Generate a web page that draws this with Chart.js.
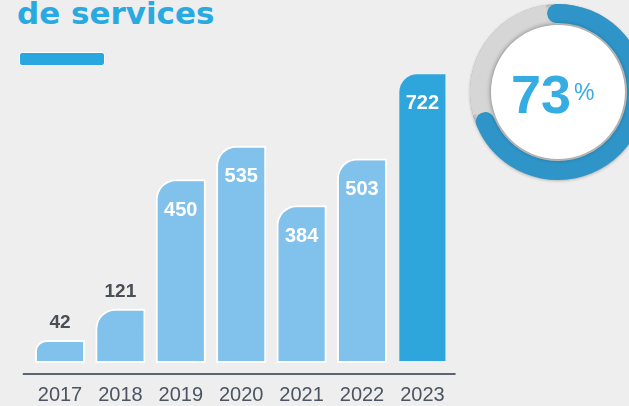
<!DOCTYPE html>
<html>
<head>
<meta charset="utf-8">
<script src="https://cdn.jsdelivr.net/npm/chart.js@4/dist/chart.umd.min.js"></script>
<style>
  html, body { margin: 0; padding: 0; }
  body {
    width: 629px; height: 406px; overflow: hidden; position: relative;
    background: #eeeeee;
  }
  .title {
    position: absolute; left: 17px; top: -2px;
    font: bold 31px "DejaVu Sans", sans-serif; line-height: 31px;
    color: #29a9e1; white-space: nowrap;
  }
  .accent {
    position: absolute; left: 19px; top: 52px; width: 86px; height: 14px;
    box-sizing: border-box; background: #29a8e0; border: 1px solid #fff; border-radius: 3px;
  }
  /* taller than the window: the x axis takes ~10px more than its labels need */
  #bars-wrap { position: absolute; left: 0; top: 0; width: 470px; height: 416px; }
  .ring-bg {
    position: absolute; left: 470px; top: 4px; width: 176px; height: 176px; border-radius: 50%;
    background: #d3d3d3; box-shadow: inset 0 0 5px rgba(0,0,0,.35), 0 1px 3px rgba(0,0,0,.25);
  }
  #gauge-wrap { position: absolute; left: 470px; top: 4px; width: 176px; height: 176px; }
  .disc {
    position: absolute; left: 491px; top: 25px; width: 134px; height: 134px; border-radius: 50%;
    background: #fff; box-shadow: 0 0 4px 1px rgba(0,0,0,.3);
  }
  .pct-text {
    position: absolute; left: 20px; top: 40px; white-space: nowrap;
    font-family: "Liberation Sans", Arial, sans-serif; color: #35ace2; line-height: 54px;
  }
  .pct-text .big { font-size: 54px; font-weight: bold; }
  .pct-text .small { font-size: 23px; vertical-align: 13px; margin-left: 3px; }
</style>
</head>
<body>
<div class="title">de services</div>
<div class="accent"></div>
<div id="bars-wrap"><canvas id="bars"></canvas></div>
<div class="ring-bg"></div>
<div id="gauge-wrap"><canvas id="gauge"></canvas></div>
<div class="disc"><div class="pct-text"><span class="big">73</span><span class="small">%</span></div></div>

<script>
const years = ['2017', '2018', '2019', '2020', '2021', '2022', '2023'];
const services = [42, 121, 450, 535, 384, 503, 722];
const gaugeValues = [73, 27];

const LIGHT = '#80c2ec';
const DARK = '#2fa6db';
const BG = '#eeeeee';

const barLabels = {
  id: 'barLabels',
  afterDatasetsDraw(chart) {
    const ctx = chart.ctx;
    const meta = chart.getDatasetMeta(0);
    ctx.save();
    ctx.textAlign = 'center';
    ctx.textBaseline = 'middle';
    meta.data.forEach((bar, i) => {
      const value = services[i];
      if (value < 200) {
        ctx.fillStyle = '#4a4f56';
        ctx.font = 'bold 19px "Liberation Sans", Arial, sans-serif';
        ctx.fillText(value, bar.x, bar.y - 17);
      } else {
        ctx.fillStyle = '#ffffff';
        ctx.font = 'bold 20px "Liberation Sans", Arial, sans-serif';
        ctx.fillText(value, bar.x, bar.y + 31);
      }
    });
    ctx.restore();
  },
};

const axisLine = {
  id: 'axisLine',
  afterDraw(chart) {
    const { ctx, chartArea } = chart;
    ctx.save();
    ctx.strokeStyle = '#5a6571';
    ctx.lineWidth = 2;
    ctx.beginPath();
    ctx.moveTo(chartArea.left - 7, chartArea.bottom);
    ctx.lineTo(chartArea.right + 3, chartArea.bottom);
    ctx.stroke();
    ctx.restore();
  },
};

new Chart(document.getElementById('bars'), {
  type: 'bar',
  data: {
    labels: years,
    datasets: [
      {
        data: services,
        base: -16.6,
        backgroundColor: (c) => (c.dataIndex === years.length - 1 ? DARK : LIGHT),
        borderColor: (c) => (c.dataIndex === years.length - 1 ? BG : '#ffffff'),
        borderWidth: 2,
        borderSkipped: false,
        borderRadius: { topLeft: 20, topRight: 0, bottomLeft: 0, bottomRight: 0 },
        barPercentage: 0.83,
        categoryPercentage: 1,
      },
    ],
  },
  options: {
    responsive: true,
    maintainAspectRatio: false,
    animation: false,
    layout: { padding: { left: 29.8, right: 17.4, top: 0, bottom: 0 } },
    scales: {
      y: { display: false, min: -44.6, max: 905.5 },
      x: {
        grid: { display: false, drawTicks: false },
        border: { display: false },
        ticks: {
          color: '#4b5460',
          padding: 9,
          font: { family: '"Liberation Sans", Arial, sans-serif', size: 20 },
        },
      },
    },
    plugins: {
      legend: { display: false },
      tooltip: { enabled: false },
    },
  },
  plugins: [barLabels, axisLine],
});

new Chart(document.getElementById('gauge'), {
  type: 'doughnut',
  data: {
    datasets: [
      {
        data: gaugeValues,
        backgroundColor: ['#2f94c7', '#d6d6d6'],
        borderWidth: 0,
        borderRadius: [10, 0],
      },
    ],
  },
  options: {
    responsive: true,
    maintainAspectRatio: false,
    animation: false,
    rotation: -8,
    cutout: 69,
    plugins: {
      legend: { display: false },
      tooltip: { enabled: false },
    },
  },
});
</script>
</body>
</html>
